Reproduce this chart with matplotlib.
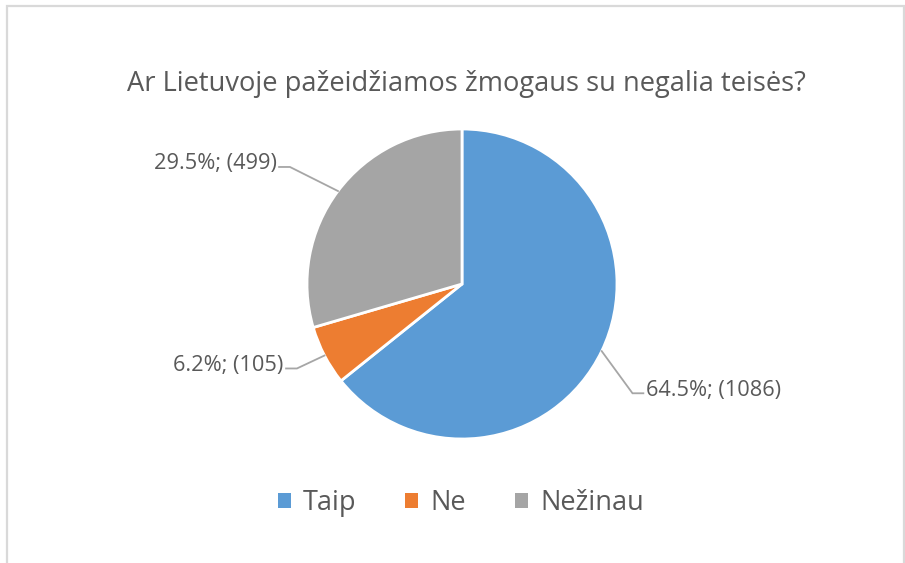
import matplotlib
matplotlib.use("Agg")
import matplotlib.pyplot as plt
from matplotlib.patches import Patch, Rectangle
import numpy as np

categories = ["Taip", "Ne", "Nežinau"]
counts = [1086, 105, 499]
percents = [64.5, 6.2, 29.5]
colors = ["#5B9BD5", "#ED7D31", "#A5A5A5"]
title = "Ar Lietuvoje pažeidžiamos žmogaus su negalia teisės?"

W, H = 905, 563
plt.rcParams['font.family'] = ['Open Sans', 'DejaVu Sans']
fig = plt.figure(figsize=(W / 100, H / 100), dpi=100)
TXT = "#595959"

# chart border
fig.patches.append(Rectangle((6.5 / W, -0.1), (904 - 6.5) / W, 1 - 6.5 / H + 0.1,
                             transform=fig.transFigure, fill=False,
                             edgecolor="#D9D9D9", lw=1.6))

cx, cy, r = 462, 284, 155
ax = fig.add_axes([(cx - r) / W, (H - cy - r) / H, 2 * r / W, 2 * r / H])
wedges, _ = ax.pie(counts, colors=colors, startangle=90, counterclock=False,
                   radius=1, wedgeprops=dict(edgecolor="white", linewidth=2))
ax.set_xlim(-1, 1)
ax.set_ylim(-1, 1)
ax.set_aspect("equal")
ax.axis("off")

fig.text(466 / W, 1 - 84 / H, title, ha="center", va="center",
         fontsize=19.6, color=TXT)

# leader lines & labels
elbows = [(1.10, -0.705, 1), (-1.065, -0.545, -1), (-1.11, 0.755, -1)]
for w, p, c, (ex, ey, side) in zip(wedges, percents, counts, elbows):
    ang = np.deg2rad((w.theta1 + w.theta2) / 2)
    px, py = np.cos(ang), np.sin(ang)
    hx = ex + side * 0.07
    ax.plot([px, ex, hx], [py, ey, ey], color="#A6A6A6", lw=1.3,
            clip_on=False, solid_joinstyle="miter")
    ax.text(hx + side * 0.015, ey + 0.02, f"{p}%; ({c})",
            ha="left" if side > 0 else "right", va="center",
            fontsize=15.7, color=TXT, clip_on=False)

handles = [Patch(facecolor=c, edgecolor="none") for c in colors]
fig.legend(handles, categories, loc="center", bbox_to_anchor=(461 / W, 1 - 503 / H),
           ncol=3, frameon=False, fontsize=19.5, labelcolor=TXT,
           handlelength=0.48, handleheight=0.48, handletextpad=0.45,
           columnspacing=1.8)

fig.savefig("out.png", dpi=100, facecolor="white")
